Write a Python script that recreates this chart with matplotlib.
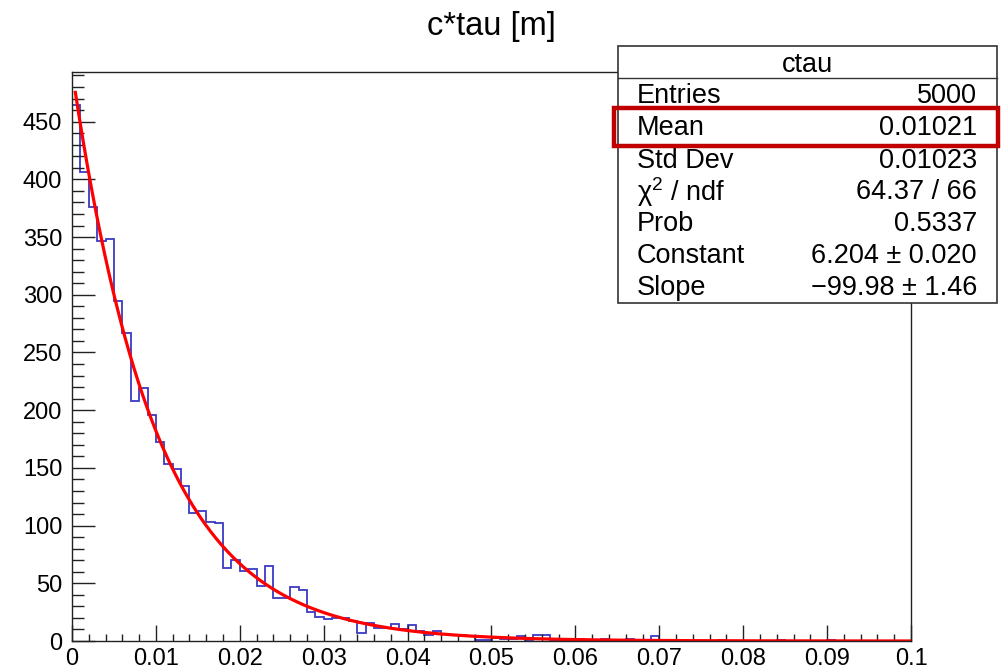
import numpy as np
import matplotlib
matplotlib.use("Agg")
import matplotlib.pyplot as plt
from matplotlib.patches import Rectangle
from matplotlib.lines import Line2D
from matplotlib.transforms import Affine2D
from matplotlib.ticker import MultipleLocator, FuncFormatter

plt.rcParams['font.family'] = ['Liberation Sans', 'DejaVu Sans']
plt.rcParams['mathtext.fontset'] = 'custom'
plt.rcParams['mathtext.rm'] = 'Liberation Sans'

# ctau histogram: 100 bins over [0, 0.1] m
n_bins = 100
x_min, x_max = 0.0, 0.1
head_counts = [464, 406, 376, 347, 348, 295, 267, 208, 219, 196,
               172, 153, 149, 134, 111, 113, 103, 102, 63, 70,
               61, 62, 48, 65, 37, 37, 47, 44, 25, 21,
               19, 20, 20, 17, 7, 16, 11, 11, 15, 10,
               14, 9, 5, 9, 6, 5, 5, 4, 1, 1,
               3, 2, 2, 4, 1, 5, 5]
tail_bins = [57, 59, 60, 62, 63, 66, 69, 72, 77, 84, 90]
tail_counts = [1, 1, 2, 1, 2, 2, 4, 1, 1, 1, 1]

# exponential fit: exp(Constant + Slope*x)
fit_const = 6.204
fit_slope = -99.98
fit_range = (0.0004, 0.1)

stat_labels = ["Entries", "Mean", "Std Dev", "χ$^{2}$ / ndf", "Prob", "Constant", "Slope"]
stat_values = ["5000", "0.01021", "0.01023", "64.37 / 66", "0.5337",
               "6.204 ± 0.020", "−99.98 ± 1.46"]

counts = np.zeros(n_bins)
counts[:len(head_counts)] = head_counts
counts[tail_bins] = tail_counts
edges = np.linspace(x_min, x_max, n_bins + 1)

W, H = 1002, 669
fig = plt.figure(figsize=(W / 100, H / 100), dpi=100)
# pixel coords measured from top-left corner
pix = Affine2D().scale(1 / W, -1 / H).translate(0, 1) + fig.transFigure

ax = fig.add_axes([72 / W, 1 - 641 / H, (911 - 72) / W, (641 - 72) / H])
ax.stairs(counts, edges, color='#3a3ac4', lw=1.3)
xs = np.linspace(*fit_range, 600)
ax.plot(xs, np.exp(fit_const + fit_slope * xs), color='#ff0000', lw=2.3)

ax.set_xlim(x_min, x_max)
ax.set_ylim(0, 493)
ax.xaxis.set_major_locator(MultipleLocator(0.01))
ax.xaxis.set_minor_locator(MultipleLocator(0.002))
ax.yaxis.set_major_locator(MultipleLocator(50))
ax.yaxis.set_minor_locator(MultipleLocator(10))
ax.xaxis.set_major_formatter(FuncFormatter(lambda v, p: f"{round(v, 4):g}"))
ax.tick_params(which='both', direction='in', top=False, right=False,
               color='#222222', width=1)
ax.tick_params(axis='x', which='major', length=11.5, labelsize=17, pad=5)
ax.tick_params(axis='x', which='minor', length=5)
ax.tick_params(axis='y', which='major', length=16.5, labelsize=17, pad=7)
ax.tick_params(axis='y', which='minor', length=8.5)
for s in ax.spines.values():
    s.set_linewidth(1.0)
    s.set_color('#222222')

fig.text(491.5, 26, "c*tau [m]", transform=pix, ha='center', va='center', fontsize=23.5)

# stats box
box_l, box_r, box_t, box_b = 618, 997, 46, 303
fig.add_artist(Rectangle((box_l, box_t), box_r - box_l, box_b - box_t, transform=pix,
                         facecolor='white', edgecolor='#333333', lw=1.2, zorder=5))
fig.add_artist(Line2D([box_l, box_r], [78, 78], transform=pix, color='#333333',
                      lw=1.0, zorder=6))
fig.text((box_l + box_r) / 2, 65, "ctau", transform=pix, ha='center', va='center',
         fontsize=19.5, zorder=7)
row_y = [96, 128, 161, 192, 224, 256, 288]
for y, lab, val in zip(row_y, stat_labels, stat_values):
    fig.text(637, y, lab, transform=pix, ha='left', va='center', fontsize=19.5, zorder=7)
    fig.text(977, y, val, transform=pix, ha='right', va='center', fontsize=19.5, zorder=7)

# highlight on the Mean row
fig.add_artist(Rectangle((614, 108), 384, 38, transform=pix, fill=False,
                         edgecolor='#c00000', lw=3.2, zorder=8))

fig.savefig("out.png", dpi=100)
